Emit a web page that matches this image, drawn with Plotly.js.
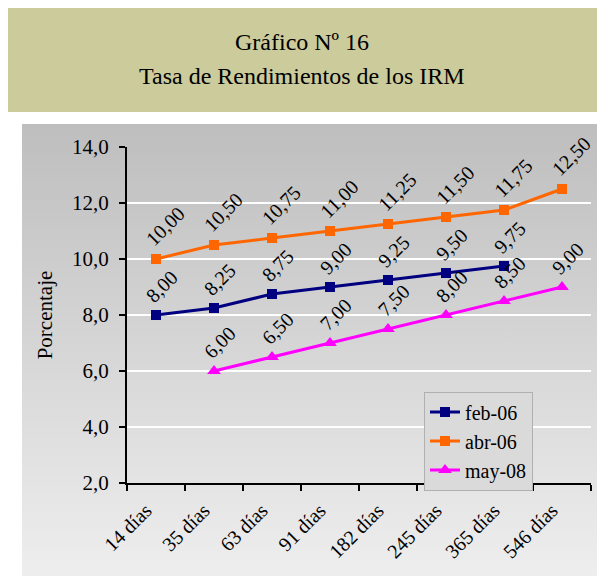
<!DOCTYPE html>
<html>
<head>
<meta charset="utf-8">
<script src="https://cdn.plot.ly/plotly-3.0.1.min.js"></script>
<style>html,body{margin:0;padding:0;background:#fff;}#chart{width:599px;height:576px;}</style>
</head>
<body>
<div id="chart"></div>
<script>
const categories = ['14 días','35 días','63 días','91 días','182 días','245 días','365 días','546 días'];
const feb06 = [8.00, 8.25, 8.75, 9.00, 9.25, 9.50, 9.75, null];
const abr06 = [10.00, 10.50, 10.75, 11.00, 11.25, 11.50, 11.75, 12.50];
const may08 = [null, 6.00, 6.50, 7.00, 7.50, 8.00, 8.50, 9.00];
const seriesNames = ['feb-06', 'abr-06', 'may-08'];
const titleLines = ['Gráfico Nº 16', 'Tasa de Rendimientos de los IRM'];
const yTitle = 'Porcentaje';

const serif = 'Liberation Serif, Times New Roman, serif';
const W = 599, H = 576;
const M = {l: 127, r: 8, t: 147, b: 93};
const pw = W - M.l - M.r, ph = H - M.t - M.b;
const px = x => (x - M.l) / pw;
const py = y => (H - M.b - y) / ph;

function trace(name, vals, color, symbol, size) {
  return {
    type: 'scatter', mode: 'lines+markers', name: name,
    x: categories, y: vals, connectgaps: false,
    line: {color: color, width: 3},
    marker: {color: color, symbol: symbol, size: size},
    cliponaxis: false
  };
}
const data = [
  trace(seriesNames[0], feb06, '#000080', 'square', 10),
  trace(seriesNames[1], abr06, '#FF6600', 'square', 10),
  trace(seriesNames[2], may08, '#FF00FF', 'triangle-up', 12)
];

const fmt = v => v.toFixed(2).replace('.', ',');
const annotations = [];
[feb06, abr06, may08].forEach(vals => {
  vals.forEach((v, i) => {
    if (v === null) return;
    annotations.push({
      x: categories[i], y: v, xref: 'x', yref: 'y', text: fmt(v),
      showarrow: false, textangle: -45, xanchor: 'left', yanchor: 'bottom',
      xshift: -17, yshift: 6,
      font: {family: serif, size: 20, color: '#000'}
    });
  });
});
annotations.push({
  x: px(302), y: py(42), xref: 'paper', yref: 'paper', text: titleLines[0],
  showarrow: false, xanchor: 'center', yanchor: 'middle',
  font: {family: serif, size: 24, color: '#000'}
});
annotations.push({
  x: px(302), y: py(76), xref: 'paper', yref: 'paper', text: titleLines[1],
  showarrow: false, xanchor: 'center', yanchor: 'middle',
  font: {family: serif, size: 24, color: '#000'}
});

const grad = 'data:image/svg+xml;utf8,' + encodeURIComponent(
  '<svg xmlns="http://www.w3.org/2000/svg" width="100" height="100" preserveAspectRatio="none">' +
  '<defs><linearGradient id="g" x1="0" y1="0" x2="0" y2="1">' +
  '<stop offset="0" stop-color="#BEBEBE"/><stop offset="1" stop-color="#EEEEEE"/>' +
  '</linearGradient></defs><rect width="100" height="100" fill="url(#g)"/></svg>');

const layout = {
  width: W, height: H,
  margin: M,
  paper_bgcolor: '#FFFFFF',
  plot_bgcolor: 'rgba(0,0,0,0)',
  separators: ',.',
  showlegend: true,
  font: {family: serif, color: '#000'},
  legend: {
    x: px(424), y: py(441), xanchor: 'left', yanchor: 'middle',
    bgcolor: '#DADADA', bordercolor: '#B0B0B0', borderwidth: 1,
    font: {family: serif, size: 20, color: '#000'},
    tracegroupgap: 0, itemwidth: 30
  },
  xaxis: {
    type: 'category', categoryorder: 'array', categoryarray: categories,
    range: [-0.5, 7.5],
    showline: true, linecolor: '#000', linewidth: 2,
    ticks: 'outside', tickson: 'boundaries', ticklen: 6, tickcolor: '#000', tickwidth: 2,
    tickangle: -45, showgrid: false, zeroline: false,
    ticklabelstandoff: 6, ticklabelshift: -10,
    tickfont: {family: serif, size: 20, color: '#000'}
  },
  yaxis: {
    range: [2, 14], dtick: 2, tick0: 2, tickformat: '.1f',
    showline: true, linecolor: '#000', linewidth: 2,
    ticks: 'outside', ticklen: 6, tickcolor: '#000', tickwidth: 2, ticklabelstandoff: 6,
    showgrid: true, gridcolor: '#FFFFFF', gridwidth: 2, zeroline: false,
    tickfont: {family: serif, size: 21, color: '#000'},
    title: {text: yTitle, standoff: 14, font: {family: serif, size: 21, color: '#000'}}
  },
  shapes: [{
    type: 'rect', xref: 'paper', yref: 'paper', layer: 'below',
    x0: px(8), x1: px(597), y0: py(112), y1: py(8),
    fillcolor: '#CCCB9C', line: {width: 0}
  }],
  images: [{
    source: grad, xref: 'paper', yref: 'paper',
    x: px(22), y: py(124), sizex: px(597) - px(22), sizey: py(124) - py(576),
    xanchor: 'left', yanchor: 'top', sizing: 'stretch', layer: 'below'
  }],
  annotations: annotations
};

Plotly.newPlot('chart', data, layout, {displayModeBar: false, staticPlot: true});
</script>
</body>
</html>
